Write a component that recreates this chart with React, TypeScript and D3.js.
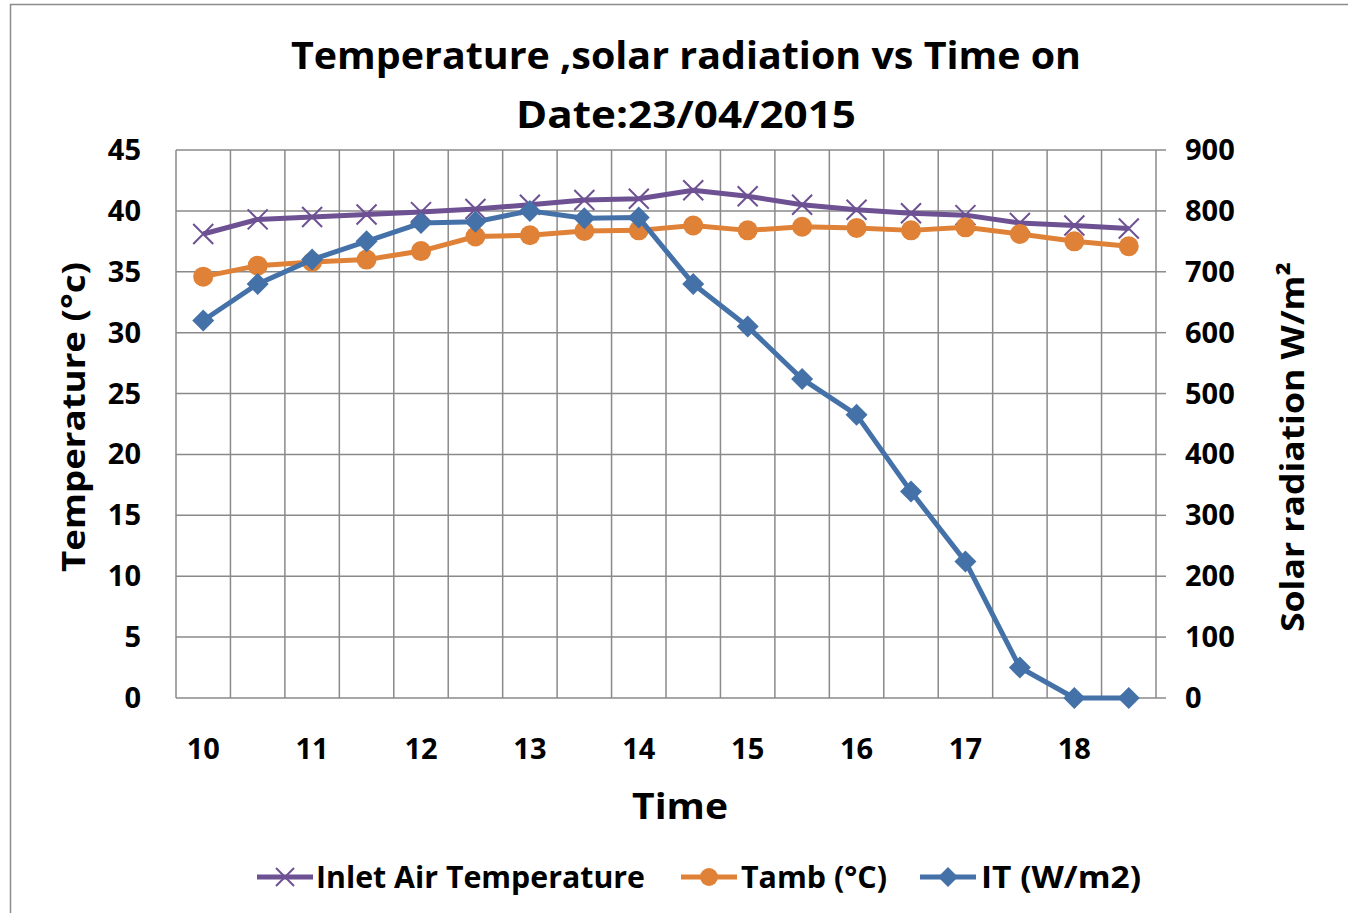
import React from "react";
import * as d3 from "d3";

const times = [10, 10.5, 11, 11.5, 12, 12.5, 13, 13.5, 14, 14.5, 15, 15.5, 16, 16.5, 17, 17.5, 18, 18.5];
const inletAir = [38.1, 39.3, 39.5, 39.7, 39.9, 40.15, 40.5, 40.9, 41.0, 41.7, 41.2, 40.5, 40.1, 39.8, 39.65, 39.0, 38.8, 38.55];
const tamb = [34.6, 35.5, 35.8, 36.0, 36.7, 37.9, 38.0, 38.35, 38.4, 38.8, 38.4, 38.7, 38.6, 38.4, 38.65, 38.1, 37.5, 37.1];
const irradiance = [620, 680, 720, 750, 780, 782, 800, 788, 789, 680, 610, 524, 465, 339, 224, 50, 0, 0];
const leftTicks = [0, 5, 10, 15, 20, 25, 30, 35, 40, 45];
const rightTicks = [0, 100, 200, 300, 400, 500, 600, 700, 800, 900];
const xLabels = [10, 11, 12, 13, 14, 15, 16, 17, 18];

const FONT = "'Open Sans', Lato, sans-serif";
const PURPLE = "#6D5193";
const ORANGE = "#DF8237";
const BLUE = "#4471A8";
const GRID = "#8a8a8a";

export default function App() {
  const left = 176, right = 1156, top = 150, bottom = 698;
  const band = d3.scaleBand<number>().domain(times).range([left, right]).padding(0);
  const xc = (t: number) => (band(t) as number) + band.bandwidth() / 2;
  const yL = d3.scaleLinear().domain([0, 45]).range([bottom, top]);
  const yR = d3.scaleLinear().domain([0, 900]).range([bottom, top]);

  const lineL = d3.line<number>().x((_, i) => xc(times[i])).y((d) => yL(d));
  const lineR = d3.line<number>().x((_, i) => xc(times[i])).y((d) => yR(d));

  const xMark = (cx: number, cy: number, key: any, s = 10) => (
    <path key={key} d={`M${cx - s},${cy - s}L${cx + s},${cy + s}M${cx - s},${cy + s}L${cx + s},${cy - s}`} stroke={PURPLE} strokeWidth={2} fill="none" />
  );
  const diamond = (cx: number, cy: number, key: any, s = 11) => (
    <path key={key} d={`M${cx},${cy - s}L${cx + s},${cy}L${cx},${cy + s}L${cx - s},${cy}Z`} fill={BLUE} />
  );

  const gridXs = d3.range(times.length + 1).map((i) => left + i * band.bandwidth());

  return (
    <svg width={1348} height={913} style={{ position: "absolute", left: 0, top: 0, background: "#fff" }} fontFamily={FONT}>
      <rect x={10.5} y={4.5} width={1500} height={1000} fill="#fff" stroke="#8c8c8c" strokeWidth={1.5} />
      {/* title */}
      <text x={686} y={69} textAnchor="middle" fontSize={38} fontWeight={700} textLength={790} lengthAdjust="spacingAndGlyphs">Temperature ,solar radiation vs Time on</text>
      <text x={686} y={128} textAnchor="middle" fontSize={38} fontWeight={700} textLength={340} lengthAdjust="spacingAndGlyphs">Date:23/04/2015</text>
      {/* grid */}
      {leftTicks.map((t) => (
        <line key={"h" + t} x1={left} x2={right} y1={yL(t)} y2={yL(t)} stroke={GRID} strokeWidth={1.5} />
      ))}
      {gridXs.map((x, i) => (
        <line key={"v" + i} x1={x} x2={x} y1={top} y2={bottom} stroke={GRID} strokeWidth={1.5} />
      ))}
      {rightTicks.map((t) => (
        <line key={"rt" + t} x1={right} x2={right + 10} y1={yR(t)} y2={yR(t)} stroke={GRID} strokeWidth={1.5} />
      ))}
      {/* tick labels */}
      {leftTicks.map((t) => (
        <text key={"lt" + t} x={141} y={yL(t) + 10} textAnchor="end" fontSize={29} fontWeight={700}>{t}</text>
      ))}
      {rightTicks.map((t) => (
        <text key={"rl" + t} x={1185} y={yR(t) + 10} textAnchor="start" fontSize={29} fontWeight={700}>{t}</text>
      ))}
      {xLabels.map((t) => (
        <text key={"xl" + t} x={xc(t)} y={759} textAnchor="middle" fontSize={29} fontWeight={700}>{t}</text>
      ))}
      {/* axis titles */}
      <text x={680} y={819} textAnchor="middle" fontSize={36} fontWeight={700} textLength={96} lengthAdjust="spacingAndGlyphs">Time</text>
      <text transform="translate(85,417) rotate(-90)" textAnchor="middle" fontSize={33} fontWeight={700} textLength={310} lengthAdjust="spacingAndGlyphs">Temperature (°c)</text>
      <text transform="translate(1304,447) rotate(-90)" textAnchor="middle" fontSize={33} fontWeight={700} textLength={370} lengthAdjust="spacingAndGlyphs">Solar radiation W/m²</text>
      {/* series */}
      <path d={lineL(inletAir) as string} fill="none" stroke={PURPLE} strokeWidth={5} strokeLinejoin="round" />
      {inletAir.map((v, i) => xMark(xc(times[i]), yL(v), "im" + i))}
      <path d={lineL(tamb) as string} fill="none" stroke={ORANGE} strokeWidth={5} strokeLinejoin="round" />
      {tamb.map((v, i) => (
        <circle key={"tm" + i} cx={xc(times[i])} cy={yL(v)} r={10} fill={ORANGE} />
      ))}
      <path d={lineR(irradiance) as string} fill="none" stroke={BLUE} strokeWidth={5} strokeLinejoin="round" />
      {irradiance.map((v, i) => diamond(xc(times[i]), yR(v), "dm" + i))}
      {/* legend */}
      <g>
        <line x1={257} x2={313} y1={877} y2={877} stroke={PURPLE} strokeWidth={5} />
        {xMark(285, 877, "lx", 9)}
        <text x={316} y={888} fontSize={30} fontWeight={700} textLength={329} lengthAdjust="spacingAndGlyphs">Inlet Air Temperature</text>
        <line x1={681} x2={737} y1={877} y2={877} stroke={ORANGE} strokeWidth={5} />
        <circle cx={709} cy={877} r={9} fill={ORANGE} />
        <text x={741} y={888} fontSize={30} fontWeight={700} textLength={146} lengthAdjust="spacingAndGlyphs">Tamb (°C)</text>
        <line x1={920} x2={976} y1={877} y2={877} stroke={BLUE} strokeWidth={5} />
        {diamond(948, 877, "ld", 10)}
        <text x={981} y={888} fontSize={30} fontWeight={700} textLength={160} lengthAdjust="spacingAndGlyphs">IT (W/m2)</text>
      </g>
    </svg>
  );
}
